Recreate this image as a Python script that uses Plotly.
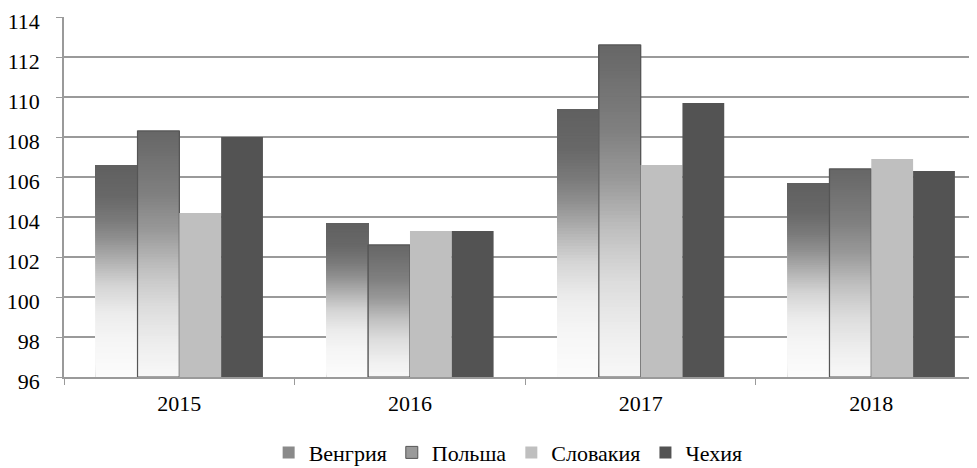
import numpy as np
import plotly.graph_objects as go

years = ["2015", "2016", "2017", "2018"]
hungary = [106.6, 103.7, 109.4, 105.7]
poland = [108.3, 102.6, 112.6, 106.4]
slovakia = [104.2, 103.3, 106.6, 106.9]
czechia = [108.0, 103.3, 109.7, 106.3]

series_names = ["Венгрия", "Польша", "Словакия", "Чехия"]
y_ticks = [96, 98, 100, 102, 104, 106, 108, 110, 112, 114]
BASE = 96

grad_hu = ([0, 0.18, 0.30, 0.43, 0.55, 0.65, 0.74, 0.85, 1.0],
           [252, 245, 236, 213, 176, 144, 122, 104, 96])
grad_pl = ([0, 0.04, 0.14, 0.29, 0.44, 0.59, 0.74, 1.0],
           [247, 245, 237, 220, 192, 154, 128, 102])

N = 90
fig = go.Figure()


def gradient_bars(vals, name, group, profile, outline=None, legend_color="#8a8a8a"):
    vals = np.array(vals, dtype=float)
    h = vals - BASE
    fig.add_trace(go.Bar(
        x=years, y=h, base=[BASE] * len(years), name=name, offsetgroup=group,
        marker=dict(color=legend_color,
                    line=dict(width=1 if outline else 0, color=outline or legend_color)),
        showlegend=True, hoverinfo="skip"))
    for k in range(N):
        f = k / N
        g = int(round(np.interp(f + 0.5 / N, profile[0], profile[1])))
        col = f"rgb({g},{g},{g})"
        fig.add_trace(go.Bar(
            x=years, y=h * (1 - f), base=BASE + h * f, offsetgroup=group,
            marker=dict(color=col, line=dict(width=0)),
            showlegend=False, hoverinfo="skip"))
    if outline:
        fig.add_trace(go.Bar(
            x=years, y=h, base=[BASE] * len(years), offsetgroup=group,
            marker=dict(color="rgba(0,0,0,0)", line=dict(width=1.2, color=outline)),
            showlegend=False, hoverinfo="skip"))


gradient_bars(hungary, series_names[0], "g1", grad_hu)
gradient_bars(poland, series_names[1], "g2", grad_pl, outline="#555555", legend_color="#9a9a9a")

fig.add_trace(go.Bar(
    x=years, y=np.array(slovakia) - BASE, base=[BASE] * 4, name=series_names[2],
    offsetgroup="g3", marker=dict(color="#bfbfbf", line=dict(width=0))))
fig.add_trace(go.Bar(
    x=years, y=np.array(czechia) - BASE, base=[BASE] * 4, name=series_names[3],
    offsetgroup="g4", marker=dict(color="#535353", line=dict(width=0))))

font = dict(family="serif", size=22, color="#000000")
fig.update_layout(
    width=969, height=460,
    margin=dict(l=56, r=1, t=9, b=91, autoexpand=False),
    paper_bgcolor="white", plot_bgcolor="white",
    barmode="group", bargap=0.275, bargroupgap=0,
    font=font,
    showlegend=True,
    legend=dict(orientation="h", x=0.487, xanchor="center", y=-0.21, yanchor="middle",
                font=font, traceorder="normal", itemwidth=30),
    xaxis=dict(type="category", range=[-0.5, 3.454], tickson="boundaries",
               ticks="outside", ticklen=6, ticklabelstandoff=6,
               tickcolor="#9a9a9a", showline=True, linecolor="#9a9a9a", linewidth=1.5,
               showgrid=False, tickfont=font, automargin=False),
    yaxis=dict(range=[96, 114], tickvals=y_ticks, ticks="outside", ticklen=6,
               ticklabelstandoff=12, ticklabelshift=4,
               tickcolor="#9a9a9a", showgrid=True, gridcolor="#9a9a9a", gridwidth=1.5,
               showline=True, linecolor="#9a9a9a", linewidth=1.5, zeroline=False,
               tickfont=font, automargin=False, ticklabeloverflow="allow"),
)

fig.write_html("out.html")
